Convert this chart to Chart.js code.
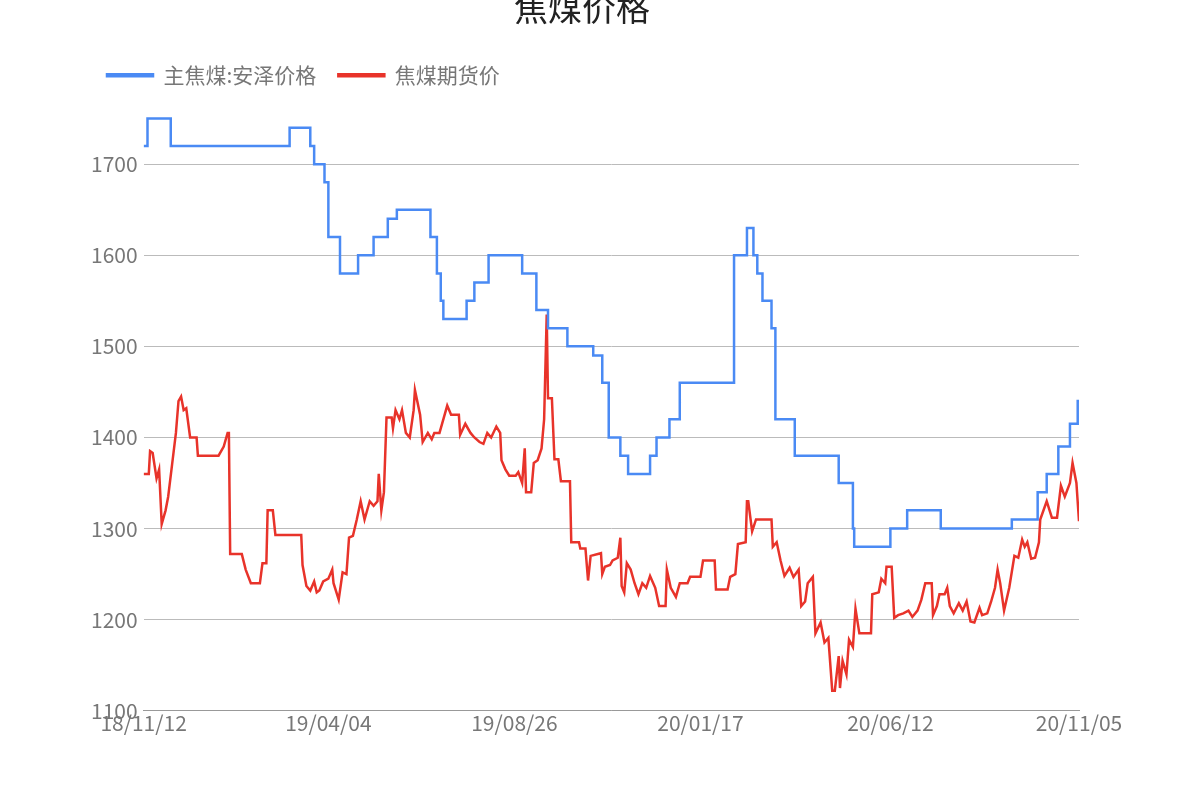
<!DOCTYPE html>
<html><head><meta charset="utf-8">
<script src="https://cdn.jsdelivr.net/npm/chart.js@4"></script>
<style>body{margin:0;background:#fff}#w{width:1200px;height:800px}</style>
</head><body><div id="w"><canvas id="c"></canvas></div>
<script>
const startDate = '2018-11-12';
const tickDays = [0,143,287,431,578,724];
// 主焦煤:安泽价格 step changes: [day offset, value]
const blueDays = [0,3,21,113,129,132,140,143,152,166,178,189,196,222,227,230,232,250,256,267,293,304,313,328,348,355,360,369,375,392,397,407,415,457,467,472,475,479,486,489,504,538,549,550,578,591,617,672,692,699,708,717,723,724];
const blueVals = [1720,1750,1720,1740,1720,1700,1680,1620,1580,1600,1620,1640,1650,1620,1580,1550,1530,1550,1570,1600,1580,1540,1520,1500,1490,1460,1400,1380,1360,1380,1400,1420,1460,1600,1630,1600,1580,1550,1520,1420,1380,1350,1300,1280,1300,1320,1300,1310,1340,1360,1390,1415,1440,1440];
// 焦煤期货价
const redDays = [0,4,5,7,10,12,14,17,19,22,25,27,29,31,33,36,41,42,58,62,65,66,67,76,79,83,90,92,95,96,100,102,122,123,126,129,132,134,136,139,143,146,147,151,154,157,159,162,165,168,171,175,178,181,182,184,186,188,192,193,195,198,200,203,206,209,210,214,216,220,223,225,229,231,235,238,244,245,249,253,256,260,263,266,269,273,276,277,280,283,288,290,293,295,296,300,302,305,308,310,312,313,316,318,321,323,330,331,337,338,342,344,346,354,355,357,361,363,367,369,370,372,374,377,380,383,386,389,392,396,399,404,405,408,412,415,421,423,431,433,438,442,443,452,454,458,460,466,467,468,471,474,486,487,490,493,496,500,503,507,509,512,514,518,520,524,527,530,533,535,538,539,541,544,546,549,551,554,563,564,569,571,574,575,579,581,584,588,592,595,599,602,605,610,611,614,616,620,622,624,627,631,634,637,640,643,647,649,653,656,659,661,663,666,670,674,677,680,682,684,687,690,693,694,699,703,707,710,713,717,719,722,724];
const redVals = [1360,1360,1385,1383,1355,1365,1305,1320,1335,1370,1405,1440,1445,1430,1432,1400,1400,1380,1380,1390,1405,1405,1272,1272,1255,1240,1240,1262,1262,1320,1320,1293,1293,1260,1237,1232,1242,1230,1232,1242,1245,1255,1240,1222,1252,1250,1290,1292,1310,1330,1310,1330,1325,1330,1360,1320,1340,1422,1422,1410,1430,1420,1430,1405,1400,1430,1452,1425,1395,1405,1398,1405,1405,1415,1435,1425,1425,1403,1415,1405,1400,1395,1393,1405,1400,1412,1405,1375,1365,1358,1358,1362,1350,1388,1340,1340,1372,1375,1388,1420,1535,1443,1443,1376,1376,1352,1352,1285,1285,1278,1278,1243,1270,1273,1250,1258,1260,1265,1268,1290,1237,1230,1262,1255,1240,1228,1240,1235,1248,1235,1215,1215,1255,1235,1225,1240,1240,1247,1247,1265,1265,1265,1233,1233,1247,1250,1283,1285,1330,1330,1297,1310,1310,1280,1285,1265,1248,1257,1247,1255,1215,1220,1240,1247,1185,1197,1175,1180,1122,1122,1160,1125,1155,1140,1178,1170,1212,1185,1185,1228,1230,1245,1240,1258,1258,1202,1205,1207,1210,1203,1210,1222,1240,1240,1205,1215,1228,1228,1235,1215,1207,1218,1210,1220,1198,1197,1213,1205,1207,1220,1235,1255,1240,1210,1235,1270,1268,1288,1280,1285,1267,1268,1285,1310,1330,1312,1312,1347,1335,1350,1372,1350,1308];

function dayLabel(d){
  const t=new Date(startDate+'T00:00:00Z'); t.setUTCDate(t.getUTCDate()+d);
  const p=n=>String(n).padStart(2,'0');
  return p(t.getUTCFullYear()%100)+'/'+p(t.getUTCMonth()+1)+'/'+p(t.getUTCDate());
}
const font='"Noto Sans CJK SC","Noto Sans",sans-serif';
new Chart(document.getElementById('c'),{
  type:'line',
  data:{datasets:[
    {label:'主焦煤:安泽价格',data:blueDays.map((d,i)=>({x:d,y:blueVals[i]})),borderColor:'#4a8af4',backgroundColor:'#4a8af4',borderWidth:2.5,pointRadius:0,stepped:'before',tension:0},
    {label:'焦煤期货价',data:redDays.map((d,i)=>({x:d,y:redVals[i]})),borderColor:'#e8332a',backgroundColor:'#e8332a',borderWidth:2.5,pointRadius:0,tension:0}
  ]},
  options:{responsive:true,maintainAspectRatio:false,animation:false,
    layout:{padding:{left:85,right:121,bottom:64,top:0}},
    plugins:{
      title:{display:true,text:'焦煤价格',font:{family:font,size:34,weight:'normal'},color:'#222',padding:{top:-12,bottom:14}},
      legend:{align:'start',labels:{font:{family:font,size:21},color:'#777',boxWidth:46,boxHeight:2,padding:22}}
    },
    scales:{
      x:{type:'linear',min:0,max:724,
        afterBuildTicks:ax=>{ax.ticks=tickDays.map(v=>({value:v}));},
        ticks:{callback:v=>dayLabel(v),font:{family:font,size:21},color:'#777',maxRotation:0,autoSkip:false,padding:0},
        grid:{display:false,drawTicks:false},border:{color:'#999'}},
      y:{min:1100,max:1775,
        afterBuildTicks:ax=>{ax.ticks=[1100,1200,1300,1400,1500,1600,1700].map(v=>({value:v}));},
        ticks:{callback:v=>String(v),font:{family:font,size:21},color:'#777',padding:6},
        grid:{color:'#bbb',drawTicks:false},border:{display:false}}
    }
  }
});
</script></body></html>
